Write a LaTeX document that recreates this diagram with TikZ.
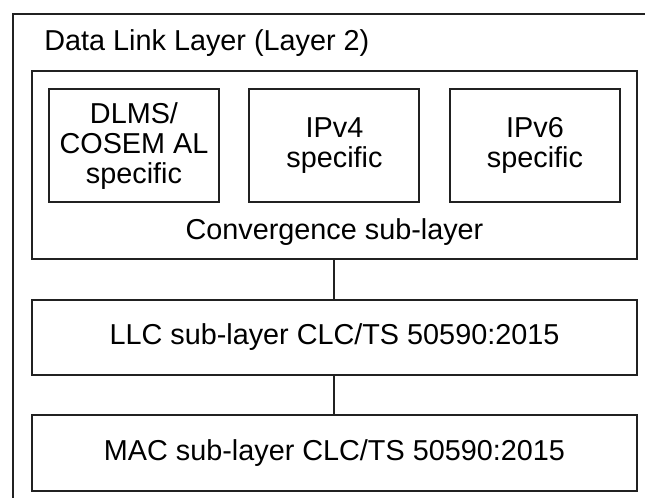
\documentclass[tikz,border=0pt]{standalone}
\usepackage{fontspec}
\setmainfont{Liberation Sans}
\usetikzlibrary{positioning}
\usetikzlibrary{matrix}
\def\mw{302.5pt}
\def\sw{85pt}
\def\sh{56.5pt}
\tikzset{
    layerline/.style = {
        line width=1pt, draw=black!87
    },
    border/.style = {
        layerline, rectangle, inner sep=0pt, align=center,
        font=\fontsize{14.4}{15}\selectfont
    },
    subborder/.style = {
        border, minimum width=\sw, minimum height=\sh
    },
    layerborder/.style = {
        border, minimum width=\mw
    }
}

\begin{document}
\begin{tikzpicture}
        \useasboundingbox (0pt, 0pt) rectangle (322.5pt, -249pt);
        % Frame of the whole layer, cut off at right and bottom
        \coordinate (fbot) at (6.5pt, -249pt);
        \coordinate (fcorner) at (6.5pt, -7pt);
        \coordinate (fright) at (322.5pt, -7pt);
        \draw[layerline] (fbot) -- (fcorner) -- (fright);
        \node (title) [anchor=base west, inner sep=0pt, font=\fontsize{14.4}{15}\selectfont]
            at (22pt, -25pt) {Data Link Layer (Layer 2)};
        % Place the sub-layers
        \node (conv) [layerborder, minimum height=94pt] at (167.25pt, -82.5pt) {};
        \node (convlabel) [anchor=base, inner sep=0pt, font=\fontsize{14.4}{15}\selectfont]
            at ([yshift=10pt]conv.south) {Convergence sub-layer};
        \matrix (m) [ampersand replacement=\&, column sep=14.25pt, inner sep=0pt,
            anchor=north] at ([yshift=-9pt]conv.north) {
        \node [subborder] (dlms) {DLMS/\\COSEM AL\\specific}; \&
        \node [subborder] (ipv4) {IPv4\\specific}; \&
        \node [subborder] (ipv6) {IPv6\\specific}; \\
        };
        \node (llc) [layerborder, minimum height=37.5pt, below=19.5pt of conv]
            {LLC sub-layer CLC/TS 50590:2015};
        \node (mac) [layerborder, minimum height=38pt, below=19pt of llc]
            {MAC sub-layer CLC/TS 50590:2015};
        % Links between the sub-layers
        \draw[layerline] (conv.south) -- (llc.north);
        \draw[layerline] (llc.south) -- (mac.north);
    \end{tikzpicture}
\end{document}
